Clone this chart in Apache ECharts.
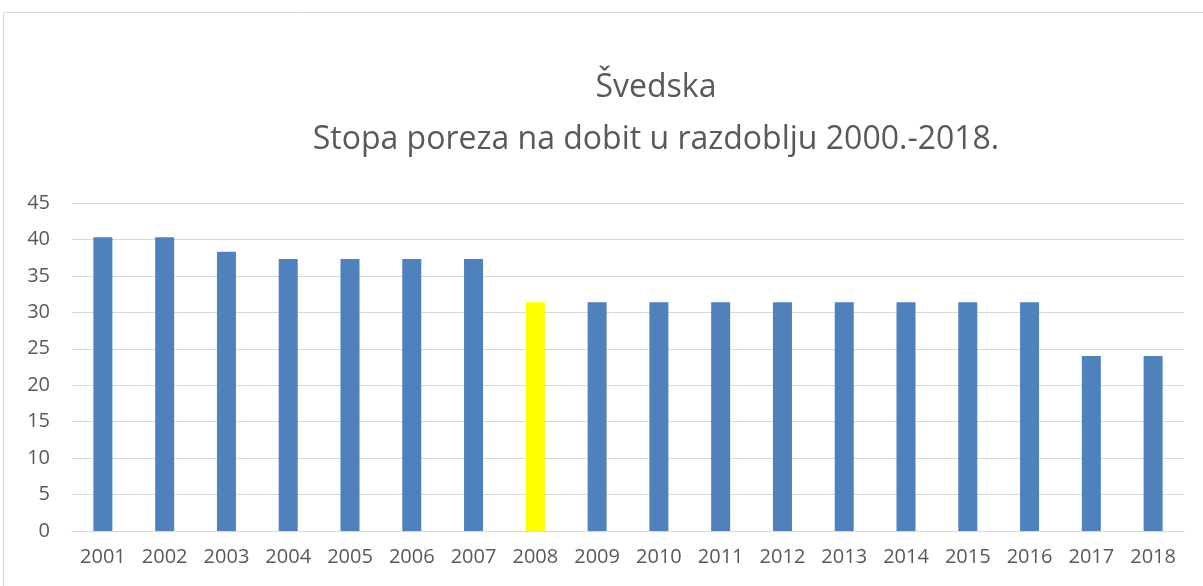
<!DOCTYPE html>
<html><head><meta charset="utf-8">
<script src="https://cdn.jsdelivr.net/npm/echarts@6/dist/echarts.min.js"></script>
<style>html,body{margin:0;padding:0;background:#fff}#c{width:1203px;height:586px}</style>
</head><body><div id="c"></div>
<script>
const categories = ['2001','2002','2003','2004','2005','2006','2007','2008','2009','2010','2011','2012','2013','2014','2015','2016','2017','2018'];
const values = [40.3,40.3,38.3,37.3,37.3,37.3,37.3,31.4,31.4,31.4,31.4,31.4,31.4,31.4,31.4,31.4,24,24];
const highlightCategory = '2008';
const yTicks = [0,5,10,15,20,25,30,35,40,45];

const chart = echarts.init(document.getElementById('c'));
chart.setOption({
  animation:false,
  graphic:[{type:'rect',shape:{x:3.5,y:12.5,width:1210,height:600},style:{fill:'none',stroke:'#d9d9d9',lineWidth:1},silent:true}],
  title:{text:'Švedska\nStopa poreza na dobit u razdoblju 2000.-2018.',left:651,top:57,textAlign:'center',
    textStyle:{fontFamily:'Open Sans',fontSize:32,fontWeight:'normal',color:'#595959',lineHeight:52}},
  grid:{left:72,right:19,top:203,bottom:55},
  xAxis:{type:'category',data:categories,axisTick:{show:false},
    axisLine:{lineStyle:{color:'#d9d9d9',width:1}},
    axisLabel:{color:'#595959',fontSize:20,fontFamily:'Open Sans',margin:16}},
  yAxis:{type:'value',min:yTicks[0],max:yTicks[yTicks.length-1],interval:5,
    axisLine:{show:false},axisTick:{show:false},
    splitLine:{lineStyle:{color:'#d9d9d9',width:1}},
    axisLabel:{color:'#595959',fontSize:20,fontFamily:'Open Sans',margin:22}},
  series:[{type:'bar',barWidth:19,
    data:values.map((v,i)=>({value:v,itemStyle:{color:categories[i]===highlightCategory?'#ffff00':'#4f81bd'}}))}]
});
</script></body></html>
